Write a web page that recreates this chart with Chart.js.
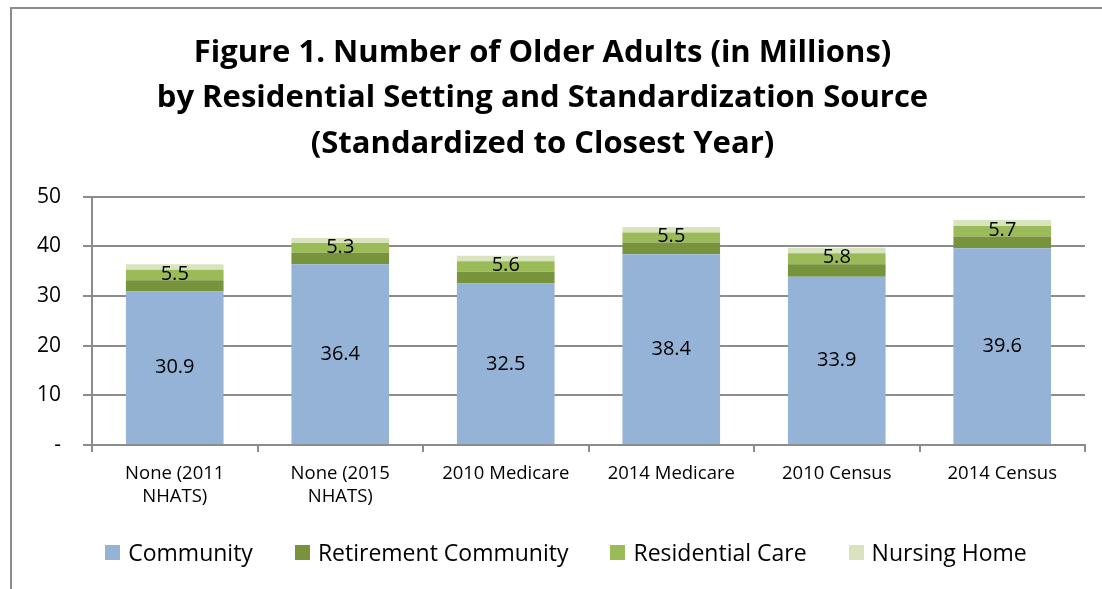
<!DOCTYPE html>
<html>
<head>
<meta charset="utf-8">
<script src="https://cdn.jsdelivr.net/npm/chart.js@4/dist/chart.umd.min.js"></script>
<style>
  body { margin: 0; background: #fff; }
  #wrap { position: absolute; left: 0; top: 0; width: 1102px; height: 589px; }
  #frame { position: absolute; left: 10px; top: 7px; right: -4px; bottom: -4px;
           border-left: 2px solid #8c8c8c; border-top: 2px solid #8c8c8c; pointer-events: none; }
  #legend { position: absolute; left: 15px; top: 537px; width: 1102px; display: flex; justify-content: center;
            gap: 42px; font: 23px "Open Sans", Lato, sans-serif; line-height: 30px; color: #000; }
  #legend span { display: flex; align-items: center; }
  #legend i { display: inline-block; width: 15px; height: 15px; margin-right: 8px; }
</style>
</head>
<body>
<div id="wrap">
  <canvas id="chart" width="1102" height="589"></canvas>
  <div id="legend"></div>
  <div id="frame"></div>
</div>
<script>
"use strict";

const categories = [
  ['None (2011', 'NHATS)'],
  ['None (2015', 'NHATS)'],
  '2010 Medicare',
  '2014 Medicare',
  '2010 Census',
  '2014 Census'
];
const community   = [30.9, 36.4, 32.5, 38.4, 33.9, 39.6];
const retirement  = [2.3, 2.3, 2.4, 2.4, 2.5, 2.4];
const residential = [2.1, 2.0, 2.1, 2.0, 2.2, 2.1];
const nursing     = [1.1, 1.0, 1.1, 1.1, 1.1, 1.2];
const yTicks = [0, 10, 20, 30, 40, 50];

const FONT = '"Open Sans", Lato, sans-serif';

// labels on bars: community value in the middle, total of the other three on the residential segment
const barLabels = {
  id: 'barLabels',
  afterDatasetsDraw(chart) {
    const ctx = chart.ctx;
    ctx.save();
    ctx.fillStyle = '#000';
    ctx.textAlign = 'center';
    ctx.textBaseline = 'middle';
    ctx.font = '20px ' + FONT;
    chart.getDatasetMeta(0).data.forEach((bar, i) => {
      ctx.fillText(community[i].toFixed(1), bar.x, (bar.y + bar.base) / 2);
    });
    chart.getDatasetMeta(2).data.forEach((bar, i) => {
      const total = retirement[i] + residential[i] + nursing[i];
      ctx.fillText(total.toFixed(1), bar.x, (bar.y + bar.base) / 2 - 1);
    });
    ctx.restore();
  }
};

const chart = new Chart(document.getElementById('chart'), {
  type: 'bar',
  data: {
    labels: categories,
    datasets: [
      { label: 'Community', data: community, backgroundColor: '#95b3d7' },
      { label: 'Retirement Community', data: retirement, backgroundColor: '#77933c' },
      { label: 'Residential Care', data: residential, backgroundColor: '#9bbb59' },
      { label: 'Nursing Home', data: nursing, backgroundColor: '#d7e4bd' }
    ]
  },
  options: {
    responsive: false,
    animation: false,
    devicePixelRatio: 1,
    datasets: { bar: { barPercentage: 0.59, categoryPercentage: 1, borderWidth: 0 } },
    layout: { padding: { top: 8, right: 17, bottom: 58, left: 0 } },
    plugins: {
      tooltip: { enabled: false },
      legend: { display: false },
      title: {
        display: true,
        text: ['Figure 1. Number of Older Adults (in Millions)',
               'by Residential Setting and Standardization Source',
               '(Standardized to Closest Year)'],
        color: '#000',
        font: { family: FONT, size: 31, weight: 'bold', lineHeight: 1.47 },
        padding: { top: 22, bottom: 30 }
      }
    },
    scales: {
      x: {
        stacked: true,
        grid: { display: true, drawOnChartArea: false, offset: true, color: '#8c8c8c', lineWidth: 2, tickLength: 7 },
        border: { color: '#8c8c8c', width: 2 },
        ticks: { color: '#000', font: { family: FONT, size: 18.5 }, padding: 11, maxRotation: 0 },
        afterFit(scale) { scale.height = 86; }
      },
      y: {
        stacked: true,
        min: 0,
        max: 50,
        afterBuildTicks(scale) { scale.ticks = yTicks.map(v => ({ value: v })); },
        grid: { color: '#8c8c8c', lineWidth: 2, tickLength: 9 },
        border: { color: '#8c8c8c', width: 2 },
        ticks: {
          color: '#000',
          font: { family: FONT, size: 21 },
          padding: 22,
          callback: v => v === 0 ? '-' : v
        },
        afterFit(scale) { scale.width = 92; }
      }
    }
  },
  plugins: [barLabels]
});

// html legend, the items in the original sit further apart than chart.js spaces them
let out = '';
chart.data.datasets.forEach(ds => {
  out += `<span><i style="background:${ds.backgroundColor}"></i>${ds.label}</span>`;
});
document.querySelector('#legend').innerHTML = out;
</script>
</body>
</html>
